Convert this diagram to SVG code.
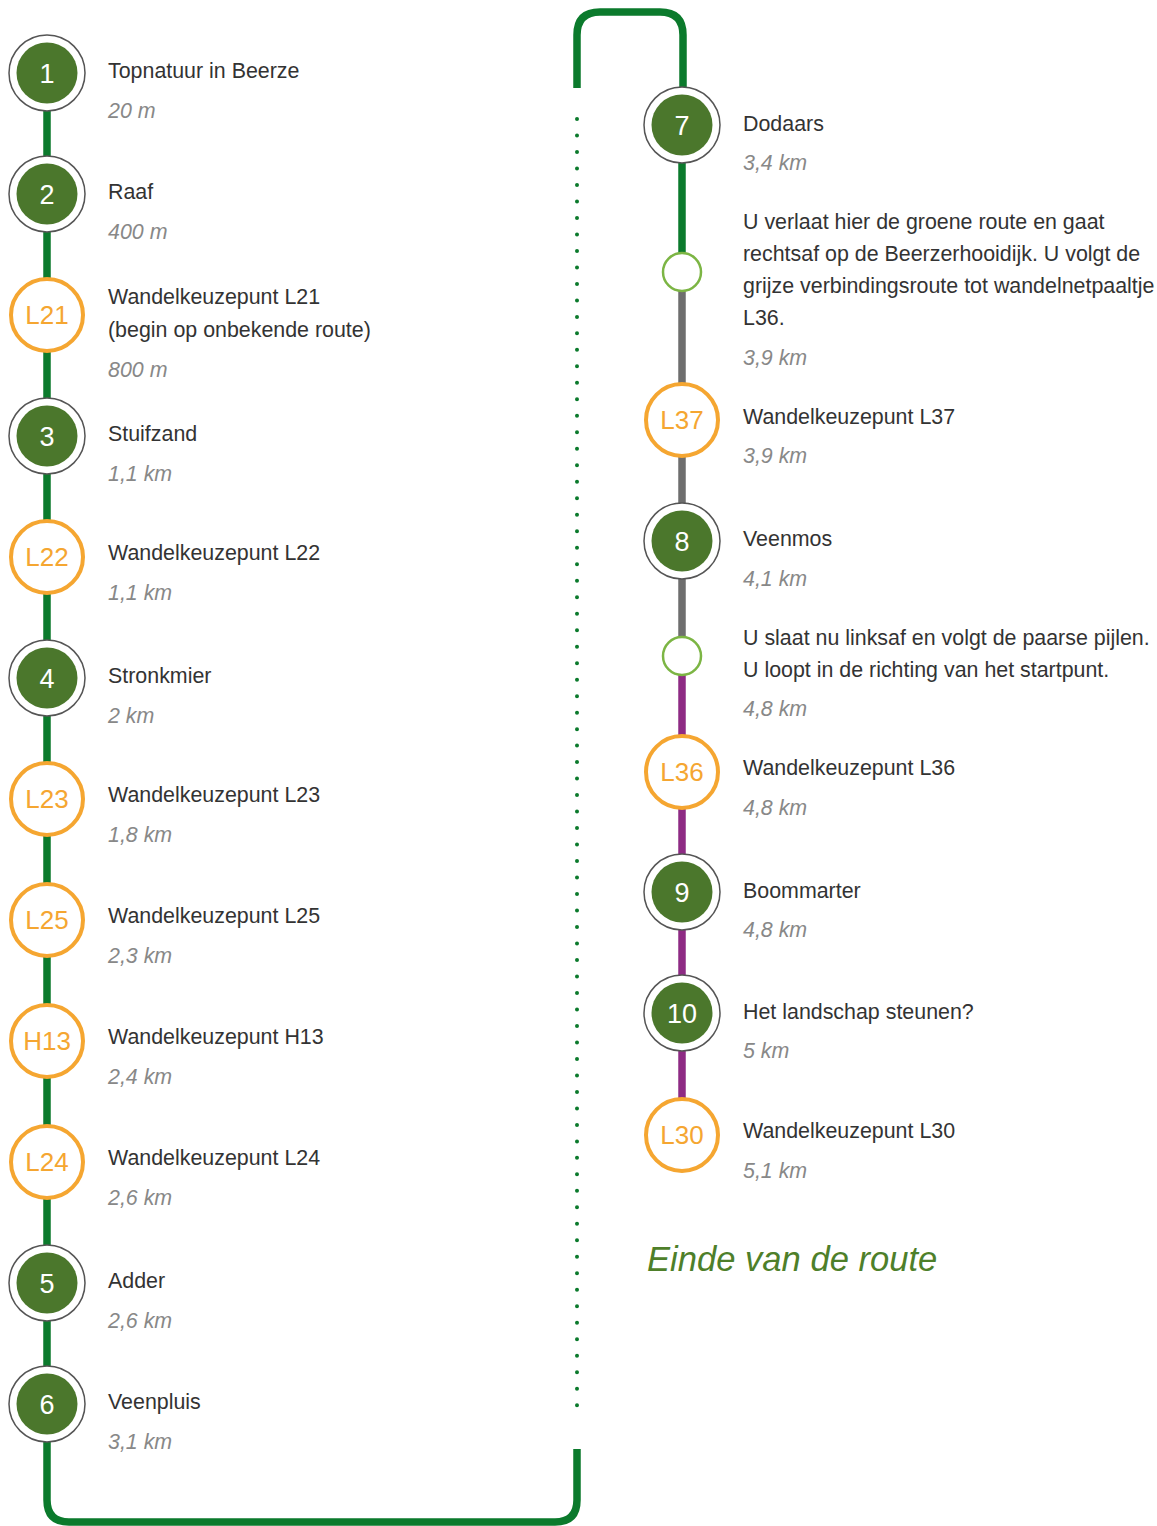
<svg xmlns="http://www.w3.org/2000/svg" width="1157" height="1526" viewBox="0 0 1157 1526">
<style>
.t{font-family:"Liberation Sans",Arial,sans-serif;font-size:21.4px;fill:#333}
.d{font-family:"Liberation Sans",Arial,sans-serif;font-size:21.4px;fill:#888;font-style:italic}
.nr{fill:#fff;stroke:#555;stroke-width:1.5}
.ni{fill:#4b772c}
.nt{font-family:"Liberation Sans",Arial,sans-serif;font-size:27px;fill:#fff;text-anchor:middle}
.oc{fill:#fff;stroke:#f5a631;stroke-width:4}
.ot{font-family:"Liberation Sans",Arial,sans-serif;font-size:26px;fill:#f5a631;text-anchor:middle}
.wc{fill:#fff;stroke:#7cb544;stroke-width:2.5}
.ln{fill:none;stroke-width:7.5}
</style>
<g id="connectors">
<path class="ln" stroke="#0b7a2c" d="M47 73 V1500 Q47 1522 69 1522 H555 Q577 1522 577 1500 V1449"/>
<path class="ln" stroke="#0b7a2c" d="M577 88 V35 Q577 12 600 12 H660 Q683 12 683 35 V125"/>
<line x1="577" y1="119" x2="577" y2="1406" stroke="#0b7a2c" stroke-width="4" stroke-linecap="round" stroke-dasharray="0 16.49"/>
<line class="ln" stroke="#0b7a2c" x1="682" y1="125" x2="682" y2="272"/>
<line class="ln" stroke="#6e6e6e" x1="682" y1="272" x2="682" y2="656"/>
<line class="ln" stroke="#8e2b84" x1="682" y1="656" x2="682" y2="1135"/>
</g>
<g id="n1"><circle class="nr" cx="47" cy="73" r="38"/><circle class="ni" cx="47" cy="73" r="30.5"/><text class="nt" x="47" y="83">1</text><text class="t" x="108" y="78">Topnatuur in Beerze</text><text class="d" x="108" y="118">20 m</text></g>
<g id="n2"><circle class="nr" cx="47" cy="194" r="38"/><circle class="ni" cx="47" cy="194" r="30.5"/><text class="nt" x="47" y="204">2</text><text class="t" x="108" y="199">Raaf</text><text class="d" x="108" y="239">400 m</text></g>
<g id="nL21"><circle class="oc" cx="47" cy="315" r="36"/><text class="ot" x="47" y="324">L21</text><text class="t" x="108" y="304">Wandelkeuzepunt L21</text><text class="t" x="108" y="337">(begin op onbekende route)</text><text class="d" x="108" y="377">800 m</text></g>
<g id="n3"><circle class="nr" cx="47" cy="436" r="38"/><circle class="ni" cx="47" cy="436" r="30.5"/><text class="nt" x="47" y="446">3</text><text class="t" x="108" y="441">Stuifzand</text><text class="d" x="108" y="481">1,1 km</text></g>
<g id="nL22"><circle class="oc" cx="47" cy="557" r="36"/><text class="ot" x="47" y="566">L22</text><text class="t" x="108" y="560">Wandelkeuzepunt L22</text><text class="d" x="108" y="600">1,1 km</text></g>
<g id="n4"><circle class="nr" cx="47" cy="678" r="38"/><circle class="ni" cx="47" cy="678" r="30.5"/><text class="nt" x="47" y="688">4</text><text class="t" x="108" y="683">Stronkmier</text><text class="d" x="108" y="723">2 km</text></g>
<g id="nL23"><circle class="oc" cx="47" cy="799" r="36"/><text class="ot" x="47" y="808">L23</text><text class="t" x="108" y="802">Wandelkeuzepunt L23</text><text class="d" x="108" y="842">1,8 km</text></g>
<g id="nL25"><circle class="oc" cx="47" cy="920" r="36"/><text class="ot" x="47" y="929">L25</text><text class="t" x="108" y="923">Wandelkeuzepunt L25</text><text class="d" x="108" y="963">2,3 km</text></g>
<g id="nH13"><circle class="oc" cx="47" cy="1041" r="36"/><text class="ot" x="47" y="1050">H13</text><text class="t" x="108" y="1044">Wandelkeuzepunt H13</text><text class="d" x="108" y="1084">2,4 km</text></g>
<g id="nL24"><circle class="oc" cx="47" cy="1162" r="36"/><text class="ot" x="47" y="1171">L24</text><text class="t" x="108" y="1165">Wandelkeuzepunt L24</text><text class="d" x="108" y="1205">2,6 km</text></g>
<g id="n5"><circle class="nr" cx="47" cy="1283" r="38"/><circle class="ni" cx="47" cy="1283" r="30.5"/><text class="nt" x="47" y="1293">5</text><text class="t" x="108" y="1288">Adder</text><text class="d" x="108" y="1328">2,6 km</text></g>
<g id="n6"><circle class="nr" cx="47" cy="1404" r="38"/><circle class="ni" cx="47" cy="1404" r="30.5"/><text class="nt" x="47" y="1414">6</text><text class="t" x="108" y="1409">Veenpluis</text><text class="d" x="108" y="1449">3,1 km</text></g>
<g id="n7"><circle class="nr" cx="682" cy="125" r="38"/><circle class="ni" cx="682" cy="125" r="30.5"/><text class="nt" x="682" y="135">7</text><text class="t" x="743" y="131">Dodaars</text><text class="d" x="743" y="170">3,4 km</text></g>
<g id="w1"><circle class="wc" cx="682" cy="272" r="19"/><text class="t" x="743" y="229">U verlaat hier de groene route en gaat</text><text class="t" x="743" y="261">rechtsaf op de Beerzerhooidijk. U volgt de</text><text class="t" x="743" y="293">grijze verbindingsroute tot wandelnetpaaltje</text><text class="t" x="743" y="325">L36.</text><text class="d" x="743" y="365">3,9 km</text></g>
<g id="nL37"><circle class="oc" cx="682" cy="420" r="36"/><text class="ot" x="682" y="429">L37</text><text class="t" x="743" y="424">Wandelkeuzepunt L37</text><text class="d" x="743" y="463">3,9 km</text></g>
<g id="n8"><circle class="nr" cx="682" cy="541" r="38"/><circle class="ni" cx="682" cy="541" r="30.5"/><text class="nt" x="682" y="551">8</text><text class="t" x="743" y="546">Veenmos</text><text class="d" x="743" y="586">4,1 km</text></g>
<g id="w2"><circle class="wc" cx="682" cy="656" r="19"/><text class="t" x="743" y="645">U slaat nu linksaf en volgt de paarse pijlen.</text><text class="t" x="743" y="677">U loopt in de richting van het startpunt.</text><text class="d" x="743" y="716">4,8 km</text></g>
<g id="nL36"><circle class="oc" cx="682" cy="772" r="36"/><text class="ot" x="682" y="781">L36</text><text class="t" x="743" y="775">Wandelkeuzepunt L36</text><text class="d" x="743" y="815">4,8 km</text></g>
<g id="n9"><circle class="nr" cx="682" cy="892" r="38"/><circle class="ni" cx="682" cy="892" r="30.5"/><text class="nt" x="682" y="902">9</text><text class="t" x="743" y="898">Boommarter</text><text class="d" x="743" y="937">4,8 km</text></g>
<g id="n10"><circle class="nr" cx="682" cy="1013" r="38"/><circle class="ni" cx="682" cy="1013" r="30.5"/><text class="nt" x="682" y="1023">10</text><text class="t" x="743" y="1019">Het landschap steunen?</text><text class="d" x="743" y="1058">5 km</text></g>
<g id="nL30"><circle class="oc" cx="682" cy="1135" r="36"/><text class="ot" x="682" y="1144">L30</text><text class="t" x="743" y="1138">Wandelkeuzepunt L30</text><text class="d" x="743" y="1178">5,1 km</text></g>
<g id="end"><text x="647" y="1271" font-family="Liberation Sans, Arial, sans-serif" font-size="34.6" font-style="italic" fill="#4e7f2a">Einde van de route</text></g>
</svg>
